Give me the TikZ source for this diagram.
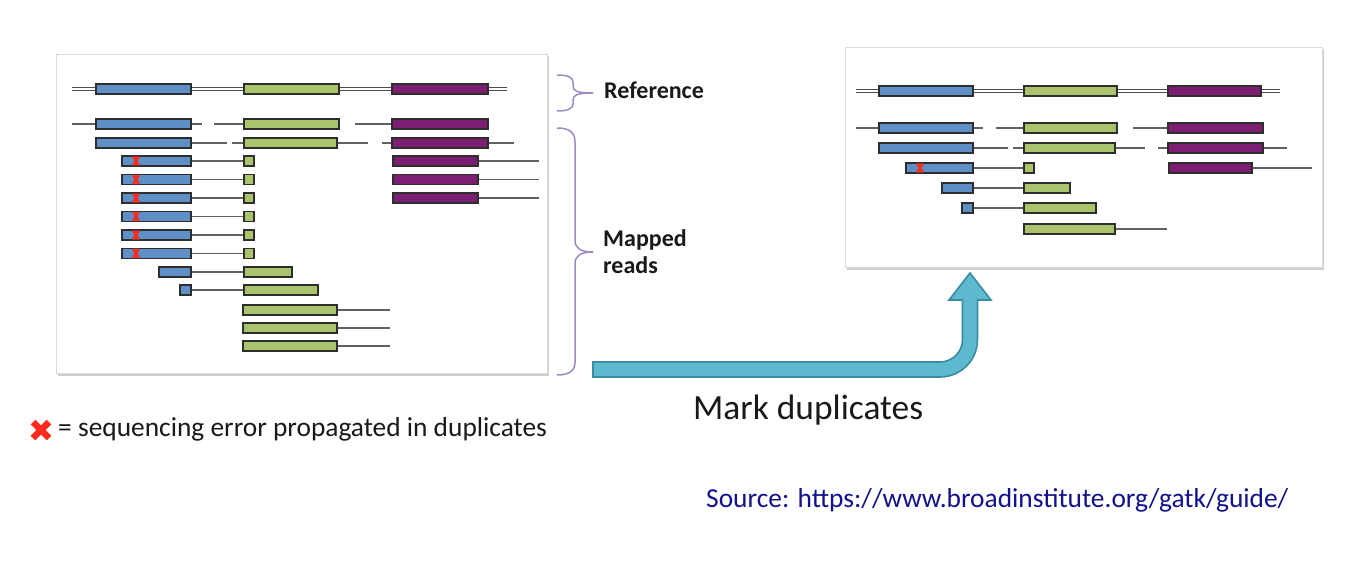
\documentclass[tikz,border=0pt]{standalone}
\usepackage{fontspec}
\setmainfont{Carlito}
\usetikzlibrary{shadows}
\definecolor{exblue}{RGB}{94,144,198}
\definecolor{exgreen}{RGB}{170,196,110}
\definecolor{expurple}{RGB}{124,30,114}
\definecolor{bracecol}{RGB}{158,138,196}
\definecolor{arrowfill}{RGB}{92,185,206}
\definecolor{arrowline}{RGB}{58,140,162}
\definecolor{errred}{RGB}{255,42,30}
\definecolor{srcblue}{RGB}{18,18,140}
\newcommand\exon[4]{\draw[exonbox,fill=#1] (#2,{#4-5}) rectangle (#3,{#4+5});}
\newcommand\intr[3]{\draw[intronline] (#1,#3) -- (#2,#3);}
\newcommand\errmk[2]{\draw[errx] ({#1-2.5},{#2-4.5}) -- ({#1+2.5},{#2+4.5}) ({#1-2.5},{#2+4.5}) -- ({#1+2.5},{#2-4.5});}
\begin{document}
\begin{tikzpicture}[x=1pt,y=-1pt,
  panel/.style={draw=black!14, fill=white, line width=0.8pt, inner sep=0pt,
    drop shadow={shadow xshift=1.5pt, shadow yshift=-2.5pt, opacity=0.35, fill=black!55}},
  exonbox/.style={draw=black!82, line width=1.3pt},
  intronline/.style={draw=black!62, line width=1.1pt},
  refline/.style={draw=black!70, double=white, double distance=1.6pt, line width=1pt},
  errx/.style={draw=errred, line width=2.8pt},
  bracestyle/.style={draw=bracecol, line width=1.5pt},
  lbl/.style={inner sep=0pt, font=\fontsize{24}{28}\selectfont\bfseries, text=black!90},
  txt/.style={inner sep=0pt, font=\fontsize{27.4}{32}\selectfont, text=black!90}
]
\useasboundingbox (0,0) rectangle (1353,578);
\fill[white] (0,0) rectangle (1353,578);

% panels
\node[panel, minimum width=491pt, minimum height=319pt] (lp) at (301.5,213.5) {};
\node[panel, minimum width=477pt, minimum height=220pt] (rp) at (1083.5,157) {};

% ---------- left panel ----------
% reference
\draw[refline] (72,89) -- (507,89);
\exon{exblue}{96}{191}{89}
\exon{exgreen}{244}{339}{89}
\exon{expurple}{392}{488}{89}
% row 1
\intr{72}{96}{124} \intr{191}{202}{124} \intr{214}{244}{124} \intr{355}{392}{124}
\exon{exblue}{96}{191}{124}
\exon{exgreen}{244}{339}{124}
\exon{expurple}{392}{488}{124}
% row 2
\intr{191}{227}{143} \intr{232}{244}{143} \intr{337}{368}{143} \intr{382}{392}{143} \intr{488}{514}{143}
\exon{exblue}{96}{191}{143}
\exon{exgreen}{244}{337}{143}
\exon{expurple}{392}{488}{143}
% duplicates
\foreach \yy in {161,179.5,198,216.5,235,253.5}{
  \intr{191}{244}{\yy}
  \exon{exblue}{122}{191}{\yy}
  \exon{exgreen}{244}{254}{\yy}
  \errmk{136}{\yy}
}
\foreach \yy in {161,179.5,198}{
  \intr{478}{539}{\yy}
  \exon{expurple}{393}{478}{\yy}
}
% other reads
\intr{191}{244}{272} \exon{exblue}{159}{191}{272} \exon{exgreen}{244}{292}{272}
\intr{191}{244}{290} \exon{exblue}{180}{191}{290} \exon{exgreen}{244}{318}{290}
\foreach \yy in {310,328,346}{
  \intr{337}{390}{\yy}
  \exon{exgreen}{243}{337}{\yy}
}

% ---------- right panel ----------
\draw[refline] (856,91) -- (1280,91);
\exon{exblue}{879}{973}{91}
\exon{exgreen}{1024}{1117}{91}
\exon{expurple}{1168}{1261}{91}
% row 1
\intr{856}{879}{128} \intr{973}{983}{128} \intr{996}{1024}{128} \intr{1133}{1168}{128}
\exon{exblue}{879}{973}{128}
\exon{exgreen}{1024}{1117}{128}
\exon{expurple}{1168}{1263}{128}
% row 2
\intr{973}{1008}{148} \intr{1013}{1024}{148} \intr{1115}{1145}{148} \intr{1158}{1168}{148} \intr{1263}{1287}{148}
\exon{exblue}{879}{973}{148}
\exon{exgreen}{1024}{1115}{148}
\exon{expurple}{1168}{1263}{148}
% row 3
\intr{973}{1024}{168} \intr{1252}{1312}{168}
\exon{exblue}{906}{973}{168}
\errmk{920}{168}
\exon{exgreen}{1024}{1034}{168}
\exon{expurple}{1169}{1252}{168}
% row 4-6
\intr{973}{1024}{188} \exon{exblue}{942}{973}{188} \exon{exgreen}{1024}{1070}{188}
\intr{973}{1024}{208} \exon{exblue}{962}{973}{208} \exon{exgreen}{1024}{1096}{208}
\intr{1115}{1167}{229} \exon{exgreen}{1024}{1115}{229}

% ---------- braces ----------
\draw[bracestyle] (557,75) .. controls (567,75) and (573,77) .. (573,82) -- (573,86)
  .. controls (573,91) and (577,93) .. (593,93)
  .. controls (577,93) and (573,95) .. (573,100) -- (573,104)
  .. controls (573,109) and (567,111) .. (557,111);
\draw[bracestyle] (557,128) .. controls (569,128) and (575,132) .. (575,142) -- (575,240)
  .. controls (575,248) and (580,252) .. (593,252)
  .. controls (580,252) and (575,256) .. (575,264) -- (575,362)
  .. controls (575,371) and (569,375) .. (557,375);

\node[lbl, anchor=base west] (reftxt) at (604,99) {Reference};
\node[lbl, anchor=base west] (maptxt) at (603,246) {Mapped};
\node[lbl, anchor=base west] (readtxt) at (603,273) {reads};

% ---------- arrow ----------
\draw[fill=arrowfill, draw=arrowline, line width=1.6pt, line join=miter]
  (593,377) -- (940,377) .. controls (960.7,377) and (977.5,360.2) .. (977.5,339.5)
  -- (977.5,300) -- (991,300) -- (970,273) -- (949,300) -- (962.5,300) -- (962.5,339.5)
  .. controls (962.5,351.9) and (952.4,362) .. (940,362) -- (593,362) -- cycle;
\node[inner sep=0pt, anchor=base west, font=\fontsize{35.4}{40}\selectfont, text=black!90] (mark) at (693,419) {Mark duplicates};

% ---------- legend ----------
\draw[draw=errred, line width=6.5pt] (33,422) -- (49,438) (33,438) -- (49,422);
\node[txt, anchor=base west] (legend) at (58,436) {= sequencing error propagated in duplicates};

\node[txt, anchor=base west, text=srcblue] (source) at (706,507) {Source: https://www.broadinstitute.org/gatk/guide/};
\end{tikzpicture}
\end{document}
